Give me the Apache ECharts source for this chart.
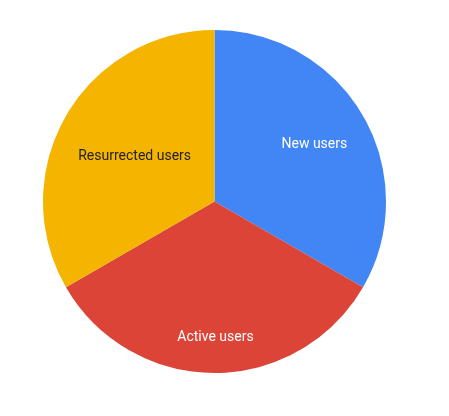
<!DOCTYPE html>
<html>
<head>
<meta charset="utf-8">
<script src="https://cdn.jsdelivr.net/npm/echarts@6/dist/echarts.min.js"></script>
<style>
html,body{margin:0;padding:0;background:#fff;}
#c{width:449px;height:416px;}
</style>
</head>
<body>
<div id="c"></div>
<script>
var categories = ["New users", "Active users", "Resurrected users"];
var values = [1, 1, 1];
var sliceColors = ["#4285f4", "#db4437", "#f4b400"];
var labelColors = ["#ffffff", "#ffffff", "#222222"];
var labelShift = [[23, -13], [1, 47], [-3, -1]];

var chart = echarts.init(document.getElementById('c'), null, {renderer: 'canvas'});
chart.setOption({
  animation: false,
  backgroundColor: '#ffffff',
  series: [{
    type: 'pie',
    center: [214.5, 201.5],
    radius: [0, 171.5],
    startAngle: 90,
    clockwise: true,
    label: {
      show: true,
      position: 'inside',
      fontFamily: 'Roboto',
      fontSize: 14,
      formatter: '{b}'
    },
    labelLine: {show: false},
    itemStyle: {borderWidth: 0},
    emphasis: {disabled: true},
    labelLayout: function (p) {
      var s = labelShift[p.dataIndex];
      return {dx: s[0], dy: s[1]};
    },
    data: categories.map(function (n, i) {
      return {
        name: n,
        value: values[i],
        itemStyle: {color: sliceColors[i]},
        label: {color: labelColors[i]}
      };
    })
  }]
});
</script>
</body>
</html>
